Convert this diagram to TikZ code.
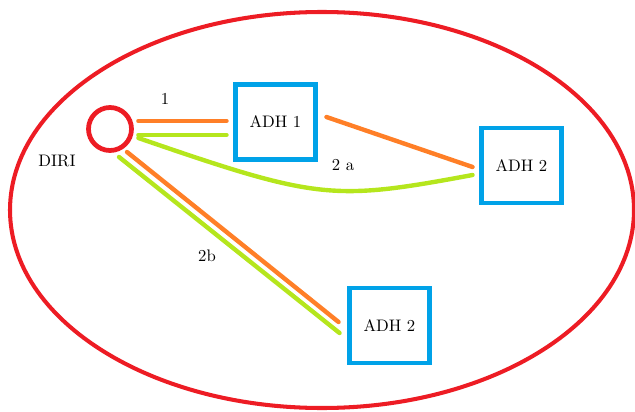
\documentclass[tikz,border=0pt]{standalone}
\usepackage{xcolor}
\usepackage{tikz}
\usetikzlibrary{calc, positioning}

\definecolor{paintred}{RGB}{237,28,36}
\definecolor{paintorange}{RGB}{255,127,39}
\definecolor{paintgreen}{RGB}{181,230,29}
\definecolor{paintblue}{RGB}{0,162,232}

\begin{document}
\begin{tikzpicture}[x=0.02cm,y=-0.02cm,
                    font=\fontsize{9.5}{11}\selectfont,
                    ring node/.style={circle,draw=paintred,line width=2.7pt,minimum size=0.86cm,inner sep=0pt},
                    box node/.style={rectangle,draw=paintblue,line width=2.8pt,minimum width=1.6cm,minimum height=1.5cm,inner sep=0pt},
                    orange line/.style={draw=paintorange,line width=2.5pt,line cap=round},
                    green line/.style={draw=paintgreen,line width=2.5pt,line cap=round}]

  \useasboundingbox (0,0) rectangle (635,412);

  % outer ellipse
  \draw[paintred,line width=2.3pt] (322,210) ellipse [x radius=312, y radius=198];

  \node[ring node] (diri) at (110,129) {};
  \node[box node] (adh1) at (275.5,122) {ADH 1};
  \node[box node] (adh2a) at (521.5,165.5) {ADH 2\hspace{2pt}};
  \node[box node] (adh2b) at (389.5,325.5) {ADH 2\hspace{8pt}};

  % labels
  \node (diriname) at (57,161) {DIRI};
  \node (one) at (165,99) {1};
  \node (twoa) at (343,165) {2 a};
  \node (twob) at (207,256) {2b};

  % path 1
  \draw[orange line] ($(diri.east)+(4.5,-8)$) -- ($(adh1.west)+(-6.5,-1)$);
  \draw[green line] ($(diri.east)+(4.5,6)$) -- ($(adh1.west)+(-6.5,13)$);

  % path 2 a
  \draw[orange line] ($(adh1.east)+(8.5,-5)$) -- ($(adh2a.west)+(-6.5,1.5)$);
  \draw[green line] ($(diri.east)+(4.5,9)$) .. controls +(180,62) and +(-140,26) .. ($(adh2a.west)+(-6.5,9.5)$);

  % path 2b
  \draw[orange line] ($(diri.center)+(17,23)$) -- ($(adh2b.west)+(-8.5,-3.5)$);
  \draw[green line] ($(diri.center)+(9,28)$) -- ($(adh2b.west)+(-7.5,7.5)$);

\end{tikzpicture}
\end{document}
